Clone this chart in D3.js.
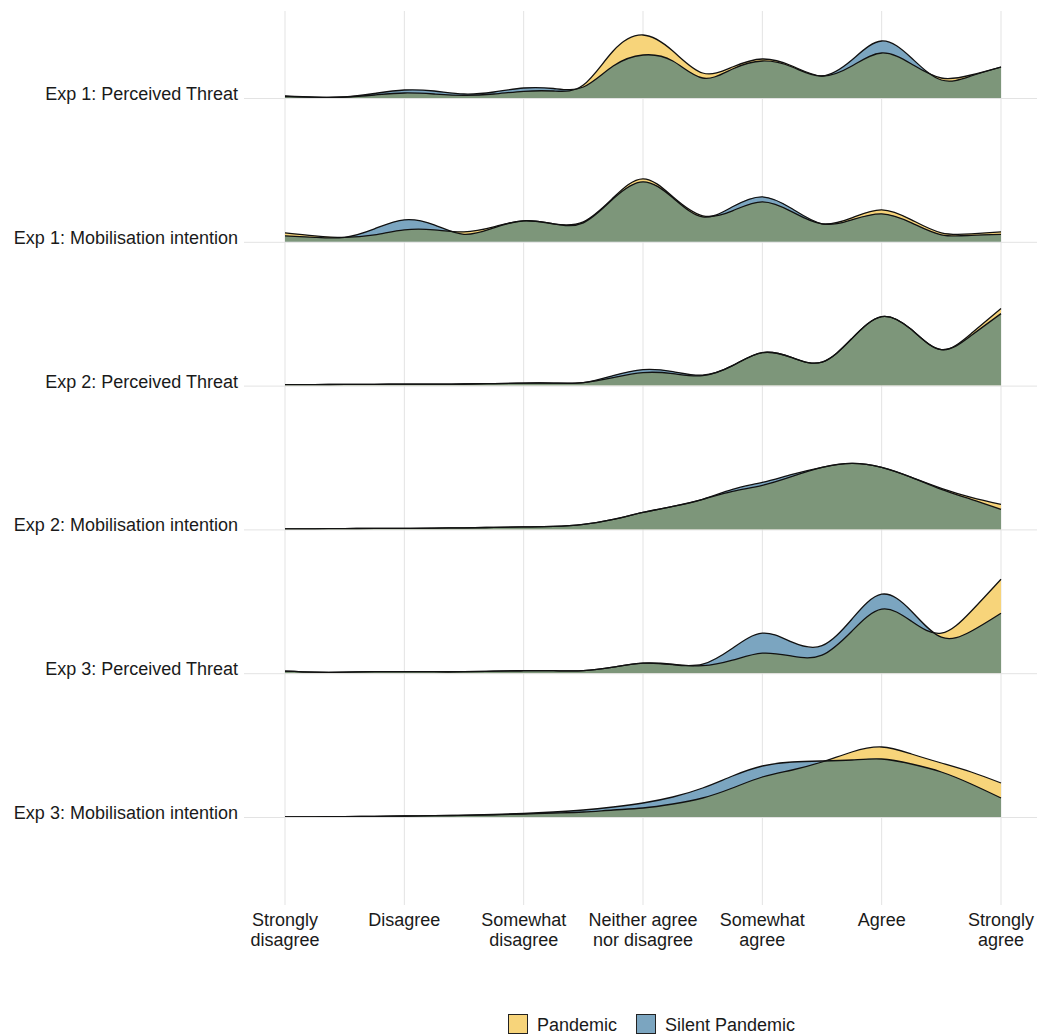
<!DOCTYPE html>
<html>
<head>
<meta charset="utf-8">
<script src="https://cdn.jsdelivr.net/npm/d3@7"></script>
<style>
  html, body { margin: 0; padding: 0; background: #ffffff; }
  svg { display: block; font-family: "Liberation Sans", Arial, sans-serif; }
</style>
</head>
<body>
<svg id="chart" width="1037" height="1035"></svg>
<script>
// Response scale (1 = Strongly disagree ... 7 = Strongly agree)
const tickLabels = [
  ["Strongly", "disagree"],
  ["Disagree"],
  ["Somewhat", "disagree"],
  ["Neither agree", "nor disagree"],
  ["Somewhat", "agree"],
  ["Agree"],
  ["Strongly", "agree"]
];

// Rows of the ridgeline, top to bottom
const measures = [
  "Exp 1: Perceived Threat",
  "Exp 1: Mobilisation intention",
  "Exp 2: Perceived Threat",
  "Exp 2: Mobilisation intention",
  "Exp 3: Perceived Threat",
  "Exp 3: Mobilisation intention"
];

const conditions = ["Pandemic", "Silent Pandemic"];

// Points along the response scale where the density estimates are given
const gridX = [1, 1.25, 1.5, 1.75, 2, 2.25, 2.5, 2.75, 3, 3.25, 3.5, 3.75, 4,
               4.25, 4.5, 4.75, 5, 5.25, 5.5, 5.75, 6, 6.25, 6.5, 6.75, 7];

// Density estimates, Pandemic condition
const pandemicExp1Threat = [0.015, 0.008, 0.010, 0.030, 0.050, 0.040, 0.027, 0.040, 0.067, 0.070, 0.130, 0.470, 0.630,
                            0.470, 0.250, 0.310, 0.390, 0.320, 0.220, 0.320, 0.450, 0.340, 0.200, 0.230, 0.310];
const pandemicExp1Mobil  = [0.090, 0.060, 0.045, 0.070, 0.120, 0.120, 0.100, 0.150, 0.210, 0.180, 0.200, 0.440, 0.630,
                            0.450, 0.260, 0.310, 0.400, 0.300, 0.180, 0.240, 0.320, 0.220, 0.090, 0.080, 0.100];
const pandemicExp2Threat = [0.010, 0.010, 0.012, 0.013, 0.015, 0.015, 0.016, 0.020, 0.025, 0.025, 0.030, 0.080, 0.130,
                            0.120, 0.100, 0.200, 0.330, 0.280, 0.235, 0.470, 0.690, 0.560, 0.360, 0.520, 0.770];
const pandemicExp2Mobil  = [0.005, 0.006, 0.008, 0.010, 0.010, 0.013, 0.016, 0.020, 0.025, 0.030, 0.050, 0.100, 0.170,
                            0.230, 0.300, 0.380, 0.440, 0.530, 0.620, 0.660, 0.620, 0.520, 0.410, 0.320, 0.250];
const pandemicExp3Threat = [0.020, 0.010, 0.010, 0.015, 0.015, 0.015, 0.015, 0.020, 0.025, 0.025, 0.025, 0.060, 0.100,
                            0.090, 0.075, 0.130, 0.200, 0.170, 0.180, 0.420, 0.640, 0.520, 0.400, 0.620, 0.940];
const pandemicExp3Mobil  = [0.000, 0.002, 0.004, 0.007, 0.010, 0.013, 0.017, 0.022, 0.030, 0.040, 0.050, 0.070, 0.090,
                            0.130, 0.190, 0.290, 0.400, 0.470, 0.550, 0.650, 0.700, 0.630, 0.540, 0.450, 0.340];

// Density estimates, Silent Pandemic condition
const silentExp1Threat = [0.020, 0.008, 0.010, 0.045, 0.080, 0.070, 0.040, 0.060, 0.100, 0.095, 0.110, 0.320, 0.430,
                          0.370, 0.200, 0.290, 0.370, 0.310, 0.220, 0.380, 0.570, 0.400, 0.180, 0.220, 0.310];
const silentExp1Mobil  = [0.060, 0.045, 0.045, 0.130, 0.220, 0.170, 0.075, 0.140, 0.210, 0.180, 0.190, 0.430, 0.600,
                          0.440, 0.250, 0.350, 0.450, 0.330, 0.180, 0.220, 0.280, 0.190, 0.070, 0.065, 0.075];
const silentExp2Threat = [0.010, 0.010, 0.012, 0.013, 0.015, 0.015, 0.016, 0.020, 0.025, 0.025, 0.030, 0.100, 0.160,
                          0.140, 0.105, 0.200, 0.330, 0.280, 0.235, 0.470, 0.690, 0.560, 0.360, 0.500, 0.720];
const silentExp2Mobil  = [0.005, 0.006, 0.008, 0.010, 0.010, 0.013, 0.016, 0.020, 0.025, 0.030, 0.050, 0.100, 0.170,
                          0.230, 0.300, 0.400, 0.470, 0.550, 0.620, 0.660, 0.620, 0.520, 0.400, 0.300, 0.200];
const silentExp3Threat = [0.020, 0.010, 0.010, 0.015, 0.015, 0.015, 0.015, 0.020, 0.025, 0.025, 0.025, 0.060, 0.100,
                          0.085, 0.090, 0.250, 0.400, 0.310, 0.275, 0.540, 0.790, 0.620, 0.360, 0.420, 0.600];
const silentExp3Mobil  = [0.000, 0.002, 0.004, 0.007, 0.010, 0.013, 0.018, 0.025, 0.035, 0.050, 0.070, 0.100, 0.140,
                          0.200, 0.290, 0.410, 0.510, 0.550, 0.560, 0.570, 0.580, 0.530, 0.450, 0.330, 0.190];

const pandemicSeries = [pandemicExp1Threat, pandemicExp1Mobil, pandemicExp2Threat,
                        pandemicExp2Mobil, pandemicExp3Threat, pandemicExp3Mobil];
const silentSeries   = [silentExp1Threat, silentExp1Mobil, silentExp2Threat,
                        silentExp2Mobil, silentExp3Threat, silentExp3Mobil];

const fillPandemic = "#f7d47a";
const fillSilent   = "#7ba5c0";
const fillOverlap  = "#7d967a";

const svg = d3.select("#chart");

const x = d3.scaleLinear().domain([1, 7]).range([285, 1001]);
const row = d3.scalePoint().domain(measures).range([98, 817]);
const h = d3.scaleLinear().domain([0, 1]).range([0, 100]);

const panelLeft = 244, panelRight = 1037, panelTop = 11, panelBottom = 905;

// Grid: vertical lines at each response option, horizontal line at each ridge baseline
const grid = svg.append("g").attr("class", "grid");
grid.selectAll("line.v")
  .data(d3.range(1, 8))
  .join("line")
  .attr("class", "v")
  .attr("x1", d => x(d)).attr("x2", d => x(d))
  .attr("y1", panelTop).attr("y2", panelBottom)
  .attr("stroke", "#e3e3e3").attr("stroke-width", 1);
grid.selectAll("line.h")
  .data(measures)
  .join("line")
  .attr("class", "h")
  .attr("x1", panelLeft).attr("x2", panelRight)
  .attr("y1", d => row(d) + 0.5).attr("y2", d => row(d) + 0.5)
  .attr("stroke", "#e3e3e3").attr("stroke-width", 1);

const defs = svg.append("defs");
const curve = d3.curveNatural;

// Ridges
measures.forEach((m, i) => {
  const base = row(m);
  const pts = s => gridX.map((gx, k) => ({ x: gx, v: s[k] }));
  const area = d3.area()
    .x(d => x(d.x))
    .y0(base)
    .y1(d => base - h(d.v))
    .curve(curve);
  const line = d3.line()
    .x(d => x(d.x))
    .y(d => base - h(d.v))
    .curve(curve);

  const pData = pts(pandemicSeries[i]);
  const sData = pts(silentSeries[i]);

  const g = svg.append("g").attr("class", "ridge");

  // keep marks on or above their baseline
  defs.append("clipPath").attr("id", "clipRow" + i)
    .append("rect")
    .attr("x", x(1) - 2).attr("y", base - 130)
    .attr("width", x(7) - x(1) + 4).attr("height", 130);
  defs.append("clipPath").attr("id", "clipP" + i)
    .append("path").attr("d", area(pData));

  g.attr("clip-path", "url(#clipRow" + i + ")");

  g.append("path").attr("d", area(pData)).attr("fill", fillPandemic);
  g.append("path").attr("d", area(sData)).attr("fill", fillSilent);
  // where both conditions overlap
  g.append("path").attr("d", area(sData)).attr("fill", fillOverlap)
    .attr("clip-path", "url(#clipP" + i + ")");

  g.append("path").attr("d", line(pData)).attr("fill", "none")
    .attr("stroke", "#111").attr("stroke-width", 1.3);
  g.append("path").attr("d", line(sData)).attr("fill", "none")
    .attr("stroke", "#111").attr("stroke-width", 1.3);
});

// Row labels
svg.append("g").selectAll("text")
  .data(measures)
  .join("text")
  .attr("x", 238)
  .attr("y", d => row(d) + 2)
  .attr("text-anchor", "end")
  .attr("font-size", 18)
  .attr("fill", "#1a1a1a")
  .text(d => d);

// Axis tick labels
const xt = svg.append("g").selectAll("text")
  .data(tickLabels)
  .join("text")
  .attr("x", (d, i) => x(i + 1))
  .attr("y", 926)
  .attr("text-anchor", "middle")
  .attr("font-size", 18)
  .attr("fill", "#1a1a1a");
xt.selectAll("tspan")
  .data(d => d)
  .join("tspan")
  .attr("x", function () { return d3.select(this.parentNode).attr("x"); })
  .attr("dy", (d, j) => j === 0 ? 0 : 20)
  .text(d => d);

// Legend
const legendItems = [
  { label: conditions[0], fill: fillPandemic, x: 508 },
  { label: conditions[1], fill: fillSilent, x: 636 }
];
const lg = svg.append("g").selectAll("g")
  .data(legendItems)
  .join("g")
  .attr("transform", d => `translate(${d.x},1014)`);
lg.append("rect")
  .attr("x", 0.5).attr("y", 0.5)
  .attr("width", 19).attr("height", 19)
  .attr("fill", d => d.fill)
  .attr("stroke", "#222").attr("stroke-width", 1);
lg.append("text")
  .attr("x", 29).attr("y", 17)
  .attr("font-size", 18)
  .attr("fill", "#1a1a1a")
  .text(d => d.label);
</script>
</body>
</html>
